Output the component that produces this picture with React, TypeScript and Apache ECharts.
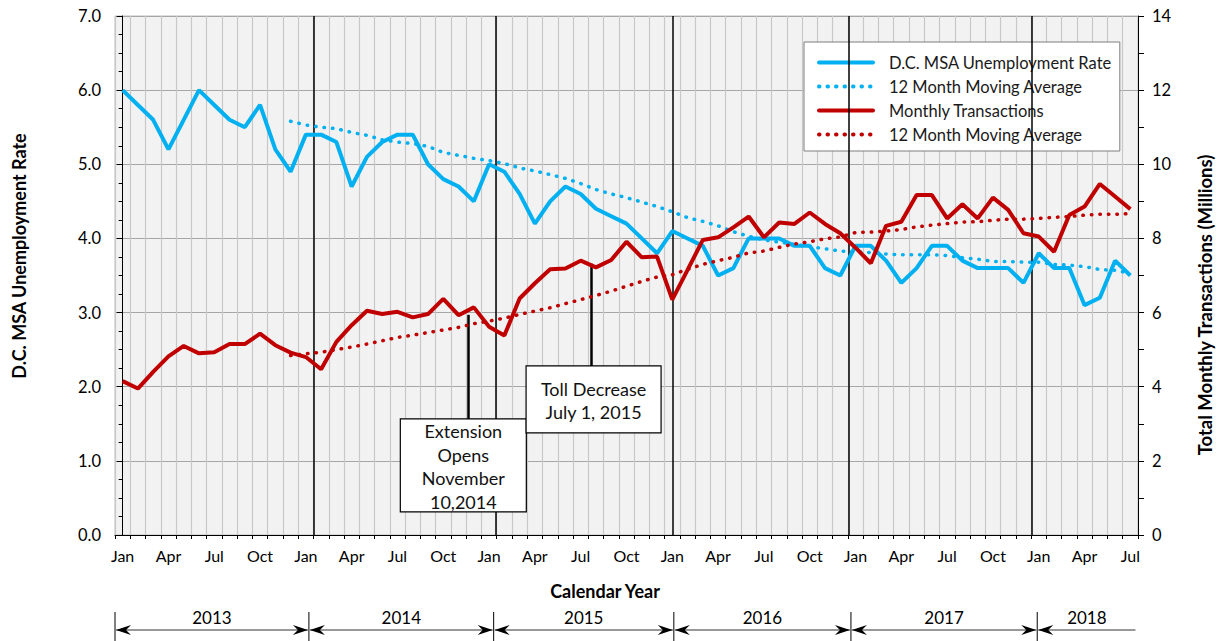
import React, { useEffect, useRef } from "react";
import * as echarts from "echarts";

const FONT = "Lato, 'Open Sans', sans-serif";

const monthNames = ["Jan", "Feb", "Mar", "Apr", "May", "Jun", "Jul", "Aug", "Sep", "Oct", "Nov", "Dec"];
const yearLabels = ["2013", "2014", "2015", "2016", "2017", "2018"];
const monthsInYear = [12, 12, 12, 12, 12, 7];

const categories: string[] = [];
yearLabels.forEach((y, yi) => {
  for (let m = 0; m < monthsInYear[yi]; m++) categories.push(monthNames[m] + " " + y);
});

// D.C. MSA Unemployment Rate (%), Jan 2013 - Jul 2018
const unemployment = [
  6.0, 5.8, 5.6, 5.2, 5.6, 6.0, 5.8, 5.6, 5.5, 5.8, 5.2, 4.9,
  5.4, 5.4, 5.3, 4.7, 5.1, 5.3, 5.4, 5.4, 5.0, 4.8, 4.7, 4.5,
  5.0, 4.9, 4.6, 4.2, 4.5, 4.7, 4.6, 4.4, 4.3, 4.2, 4.0, 3.8,
  4.1, 4.0, 3.9, 3.5, 3.6, 4.0, 4.0, 4.0, 3.9, 3.9, 3.6, 3.5,
  3.9, 3.9, 3.7, 3.4, 3.6, 3.9, 3.9, 3.7, 3.6, 3.6, 3.6, 3.4,
  3.8, 3.6, 3.6, 3.1, 3.2, 3.7, 3.5,
];

const unemploymentMA = [
  null, null, null, null, null, null, null, null, null, null, null, 5.58,
  5.53, 5.50, 5.48, 5.43, 5.39, 5.33, 5.30, 5.28, 5.24, 5.16, 5.12, 5.08,
  5.05, 5.01, 4.95, 4.91, 4.86, 4.81, 4.74, 4.66, 4.60, 4.55, 4.49, 4.43,
  4.36, 4.28, 4.23, 4.17, 4.09, 4.03, 3.98, 3.95, 3.92, 3.89, 3.86, 3.83,
  3.82, 3.81, 3.79, 3.78, 3.78, 3.78, 3.77, 3.74, 3.72, 3.69, 3.69, 3.68,
  3.68, 3.65, 3.64, 3.62, 3.58, 3.57, 3.53,
];

// Total monthly transactions (millions)
const transactions = [
  4.15, 3.95, 4.40, 4.82, 5.10, 4.90, 4.93, 5.15, 5.15, 5.43, 5.12, 4.92,
  4.80, 4.47, 5.21, 5.66, 6.05, 5.96, 6.02, 5.87, 5.96, 6.37, 5.93, 6.14,
  5.62, 5.38, 6.38, 6.79, 7.17, 7.19, 7.40, 7.22, 7.42, 7.91, 7.49, 7.51,
  6.35, 7.15, 7.96, 8.03, 8.30, 8.59, 8.03, 8.43, 8.39, 8.70, 8.39, 8.14,
  7.75, 7.33, 8.34, 8.45, 9.17, 9.17, 8.54, 8.92, 8.54, 9.10, 8.77, 8.14,
  8.05, 7.64, 8.63, 8.86, 9.47, 9.13, 8.79,
];

const transactionsMA = [
  null, null, null, null, null, null, null, null, null, null, null, 4.84,
  4.89, 4.93, 5.00, 5.07, 5.15, 5.24, 5.33, 5.39, 5.46, 5.53, 5.60, 5.70,
  5.77, 5.85, 5.95, 6.04, 6.13, 6.24, 6.35, 6.46, 6.58, 6.71, 6.84, 6.96,
  7.02, 7.17, 7.30, 7.40, 7.49, 7.61, 7.66, 7.76, 7.85, 7.91, 7.99, 8.04,
  8.16, 8.17, 8.20, 8.24, 8.31, 8.36, 8.40, 8.44, 8.45, 8.49, 8.52, 8.52,
  8.54, 8.57, 8.59, 8.63, 8.65, 8.65, 8.67,
];

// vertical year separators inside the plot (month index positions)
const yearLinePos = [12.5, 24.45, 36, 47.55, 59.55];
// bottom year band dividers (month index positions)
const yearDividers = [-0.5, 12.2, 24.3, 36.1, 47.7, 59.9, 66.4];

// annotation pointers: [month position, top value, bottom value] on left axis scale
const extensionPointer = [22.64, 2.97, 1.565];
const tollPointer = [30.68, 3.66, 2.28];
const extensionText = "Extension\nOpens\nNovember\n10,2014";
const tollText = "Toll Decrease\nJuly 1, 2015";

const leftTitle = "D.C. MSA Unemployment Rate";
const rightTitle = "Total Monthly Transactions (Millions)";
const xTitle = "Calendar Year";

const BLUE = "#00b0f0";
const RED = "#c00000";

export default function App() {
  const ref = useRef<HTMLDivElement>(null);

  useEffect(() => {
    const chart = echarts.init(ref.current!, undefined, { renderer: "svg" });
    const dotted = { type: [0.5, 8], cap: "round", width: 3.5 };
    const tickStyle = { color: "#000", width: 1 };
    const option: any = {
      animation: false,
      textStyle: { fontFamily: FONT },
      grid: {
        left: 115, right: 82, top: 16, bottom: 106,
        show: true, backgroundColor: "#f2f2f2", borderColor: "#bfbfbf", borderWidth: 1,
      },
      legend: {
        orient: "vertical",
        left: 804, top: 42,
        itemWidth: 54, itemHeight: 14, itemGap: 7,
        padding: [12, 8, 8, 13],
        backgroundColor: "#fff", borderColor: "#7f7f7f", borderWidth: 1,
        selectedMode: false,
        itemStyle: { opacity: 0 },
        lineStyle: { width: 4, cap: "round" },
        formatter: (n: string) => n.trim(),
        textStyle: { fontSize: 16.5, lineHeight: 16, color: "#1a1a1a", fontFamily: FONT, padding: [0, 0, 0, 11] },
        data: ["D.C. MSA Unemployment Rate", "12 Month Moving Average", "Monthly Transactions", "12 Month Moving Average "],
      },
      xAxis: [
        {
          type: "category",
          data: categories,
          boundaryGap: true,
          axisLine: { lineStyle: { color: "#000", width: 1 } },
          axisTick: { show: true, interval: 0, length: 4, lineStyle: tickStyle },
          axisLabel: {
            interval: (i: number) => i % 3 === 0,
            formatter: (v: string) => v.split(" ")[0],
            fontSize: 16, color: "#000", margin: 12, fontFamily: FONT,
          },
          splitLine: { show: true, interval: 0, lineStyle: { color: "#c8c8c8", width: 1.2 } },
        },
        { type: "value", min: -0.5, max: 66.5, show: false },
      ],
      yAxis: [
        {
          type: "value", min: 0, max: 7, interval: 1, position: "left",
          axisLine: { show: true, lineStyle: { color: "#000", width: 1 } },
          axisTick: { show: true, length: 6, lineStyle: tickStyle },
          minorTick: { show: true, splitNumber: 4, length: 4, lineStyle: tickStyle },
          axisLabel: { formatter: (v: number) => v.toFixed(1), fontSize: 16.5, color: "#000", margin: 14, fontFamily: FONT },
          splitLine: { show: true, lineStyle: { color: "#a6a6a6", width: 1.2 } },
        },
        {
          type: "value", min: 0, max: 14, interval: 2, position: "right",
          axisLine: { show: true, lineStyle: { color: "#000", width: 1 } },
          axisTick: { show: true, length: 6, lineStyle: tickStyle },
          minorTick: { show: true, splitNumber: 2, length: 6, lineStyle: tickStyle },
          axisLabel: { fontSize: 16.5, color: "#000", margin: 14, fontFamily: FONT },
          splitLine: { show: false },
        },
      ],
      series: [
        {
          name: "D.C. MSA Unemployment Rate", type: "line", data: unemployment, yAxisIndex: 0,
          symbol: "none", color: BLUE, lineStyle: { color: BLUE, width: 4 }, z: 5,
        },
        {
          name: "12 Month Moving Average", type: "line", data: unemploymentMA, yAxisIndex: 0,
          symbol: "none", color: BLUE, lineStyle: { ...dotted, color: BLUE }, z: 5,
        },
        {
          name: "Monthly Transactions", type: "line", data: transactions, yAxisIndex: 1,
          symbol: "none", color: RED, lineStyle: { color: RED, width: 4 }, z: 6,
        },
        {
          name: "12 Month Moving Average ", type: "line", data: transactionsMA, yAxisIndex: 1,
          symbol: "none", color: RED, lineStyle: { ...dotted, color: RED }, z: 6,
        },
        {
          name: "markers", type: "line", xAxisIndex: 1, yAxisIndex: 0, data: [], z: 2,
          markLine: {
            silent: true, symbol: ["none", "none"], label: { show: false }, animation: false,
            data: [
              ...yearLinePos.map((v) => ({ xAxis: v, lineStyle: { color: "#000", width: 1.5, type: "solid" } })),
              [
                { coord: [extensionPointer[0], extensionPointer[1]], lineStyle: { color: "#000", width: 2.5, type: "solid" } },
                { coord: [extensionPointer[0], extensionPointer[2]], lineStyle: { color: "#000", width: 2.5, type: "solid" } },
              ],
              [
                { coord: [tollPointer[0], tollPointer[1]], lineStyle: { color: "#000", width: 2.5, type: "solid" } },
                { coord: [tollPointer[0], tollPointer[2]], lineStyle: { color: "#000", width: 2.5, type: "solid" } },
              ],
            ],
          },
        },
      ],
    };
    chart.setOption(option);

    const px = (v: number) => chart.convertToPixel({ xAxisIndex: 1 }, v) as number;
    const py = (v: number) => chart.convertToPixel({ yAxisIndex: 0 }, v) as number;

    const els: any[] = [];
    // axis titles
    els.push({
      type: "text", z: 100, x: 19, y: 256, rotation: Math.PI / 2,
      style: { text: leftTitle, fontSize: 18, fontWeight: "bold", fontFamily: FONT, fill: "#000", align: "center", verticalAlign: "middle" },
    });
    els.push({
      type: "text", z: 100, x: 1205, y: 305, rotation: Math.PI / 2,
      style: { text: rightTitle, fontSize: 18.5, fontWeight: "bold", fontFamily: FONT, fill: "#000", align: "center", verticalAlign: "middle" },
    });
    els.push({
      type: "text", z: 100, x: 605, y: 591,
      style: { text: xTitle, fontSize: 18, fontWeight: "bold", fontFamily: FONT, fill: "#000", align: "center", verticalAlign: "middle" },
    });

    // annotation boxes
    const exX = px(extensionPointer[0]);
    const exTop = py(extensionPointer[2]);
    const exW = 126, exH = 93;
    els.push({
      type: "rect", z: 100,
      shape: { x: exX - 68, y: exTop, width: exW, height: exH },
      style: { fill: "#fff", stroke: "#000", lineWidth: 1.2 },
    });
    els.push({
      type: "text", z: 101, x: exX - 68 + exW / 2, y: exTop + exH / 2 + 1,
      style: { text: extensionText, fontSize: 18, lineHeight: 23.5, fontFamily: FONT, fill: "#111", align: "center", verticalAlign: "middle" },
    });
    const tlX = px(tollPointer[0]);
    const tlTop = py(tollPointer[2]);
    const tlW = 135, tlH = 67;
    els.push({
      type: "rect", z: 100,
      shape: { x: tlX - 65, y: tlTop, width: tlW, height: tlH },
      style: { fill: "#fff", stroke: "#000", lineWidth: 1.2 },
    });
    els.push({
      type: "text", z: 101, x: tlX - 65 + tlW / 2, y: tlTop + tlH / 2 + 1,
      style: { text: tollText, fontSize: 18, lineHeight: 23, fontFamily: FONT, fill: "#111", align: "center", verticalAlign: "middle" },
    });

    // year band
    const yText = 617, yArrow = 630, barTop = 612, barBot = 641;
    const dx = yearDividers.map(px);
    dx.forEach((x, i) => {
      if (i === dx.length - 1) return;
      els.push({ type: "line", z: 100, shape: { x1: x, y1: barTop, x2: x, y2: barBot }, style: { stroke: "#000", lineWidth: 1 } });
    });
    const head = (tipX: number, dir: number) => ({
      type: "polygon", z: 101,
      shape: { points: [[tipX, yArrow], [tipX + dir * 15, yArrow - 5], [tipX + dir * 10, yArrow], [tipX + dir * 15, yArrow + 5]] },
      style: { fill: "#000" },
    });
    for (let i = 0; i < dx.length - 1; i++) {
      const a = dx[i] + 1, b = dx[i + 1] - 1;
      const last = i === dx.length - 2;
      els.push({ type: "line", z: 100, shape: { x1: a, y1: yArrow, x2: b, y2: yArrow }, style: { stroke: "#333", lineWidth: 1 } });
      els.push(head(a, 1));
      if (!last) els.push(head(b, -1));
      els.push({
        type: "text", z: 101, x: (dx[i] + dx[i + 1]) / 2, y: yText,
        style: { text: yearLabels[i], fontSize: 17, fontFamily: FONT, fill: "#000", align: "center", verticalAlign: "middle" },
      });
    }
    chart.setOption({ graphic: els });

    return () => chart.dispose();
  }, []);

  return <div ref={ref} style={{ position: "absolute", left: 0, top: 0, width: 1220, height: 641 }} />;
}
